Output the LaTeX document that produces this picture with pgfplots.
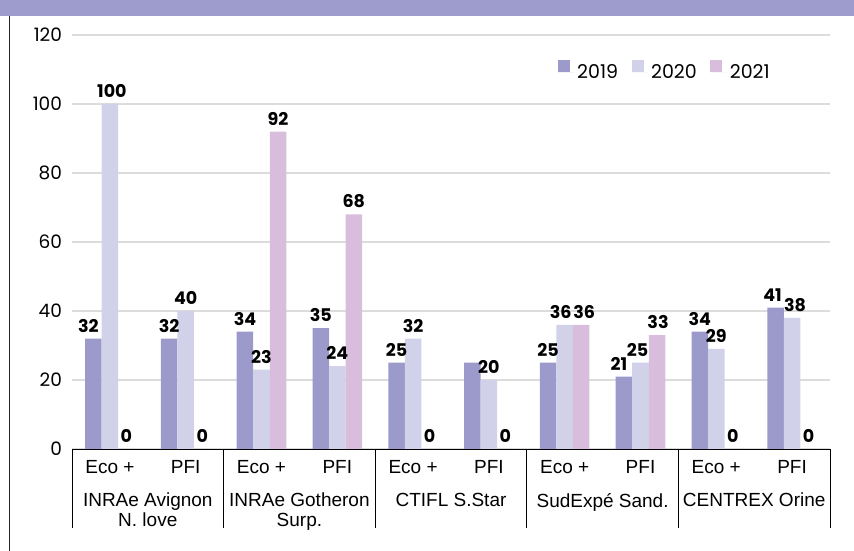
\documentclass[border=0pt]{standalone}
\usepackage{pgfplots}
\pgfplotsset{compat=1.18}
\usepackage{pgfplotstable}
\usepackage{fontspec}
\setmainfont{Liberation Sans}
\newfontfamily\pop{Poppins}
\definecolor{band}{HTML}{9D9CCD}
\definecolor{cA}{HTML}{9C9ACB}
\definecolor{cB}{HTML}{D1D1EA}
\definecolor{cC}{HTML}{D8BDDC}
\definecolor{gridc}{HTML}{DCDCDC}

\pgfplotstableread{
x a b c
0 32 100 0
1 32 40 0
2 34 23 92
3 35 24 68
4 25 32 0
5 25 20 0
6 25 36 36
7 21 25 33
8 34 29 0
9 41 38 0
}\datatable

\pgfplotstableread{
x a
0 32
1 32
2 34
3 35
4 25
6 25
7 21
8 34
9 41
}\labelsA

\tikzset{grp/.style={anchor=north, inner sep=0pt, align=center, font=\fontsize{19}{20}\selectfont, yshift=-44pt}}

\begin{document}
\begin{tikzpicture}[x=1pt,y=1pt]
\useasboundingbox (0,0) rectangle (854,551);
\fill[band] (0,535) rectangle (854,551);
\draw[black!85, line width=0.8pt] (9.5,0) -- (9.5,535);
\begin{axis}[
  at={(72pt,102pt)}, anchor=south west,
  width=758pt, height=414pt, scale only axis, clip=false,
  xmin=-0.5, xmax=9.5, ymin=0, ymax=120,
  ybar, bar width=0.218,
  /pgf/number format/assume math mode=true,
  ytick={0,20,...,120},
  ymajorgrids, grid style={gridc, line width=1.2pt},
  separate axis lines,
  axis x line*=bottom, axis y line*=left,
  y axis line style={draw=none},
  x axis line style={-, black, line width=0.8pt},
  major tick length=0pt,
  ytick style={draw=none},
  yticklabel style={font=\pop\fontsize{18.5}{20}\selectfont, xshift=-6.5pt},
  xtick={0,...,9},
  xticklabels={Eco +, PFI, Eco +, PFI, Eco +, PFI, Eco +, PFI, Eco +, PFI},
  xticklabel style={font=\fontsize{19}{20}\selectfont, yshift=-8pt},
  extra x ticks={-0.5,1.5,3.5,5.5,7.5,9.5},
  extra x tick labels={},
  extra x tick style={major tick length=79pt, tick align=outside, tick style={draw=black, line width=0.8pt}},
  legend columns=3,
  legend style={at={(0.6405,0.940)}, anchor=north west, draw=none, fill=none,
    inner sep=0pt, font=\pop\fontsize{19}{22}\selectfont,
    nodes={inner sep=3.5pt},
    /tikz/every even column/.append style={column sep=10pt}},
  legend image code/.code={\fill[#1, draw=none] (0pt,0pt) rectangle (12pt,12pt);\path (0pt,0pt) -- (16pt,0pt);},
  nodes near coords style={font=\pop\bfseries\fontsize{17.5}{20}\selectfont, text=black, inner sep=0pt, anchor=south, yshift=6pt},
]
\addplot[fill=cA, draw=none, bar shift=-0.218] table[x=x, y=a] {\datatable};
\addplot[fill=cB, draw=none, bar shift=0, nodes near coords,
  coordinate style/.condition={x==0}{xshift=2pt},
  coordinate style/.condition={x==6}{xshift=-4pt},
  coordinate style/.condition={x==7}{xshift=-3pt},
  coordinate style/.condition={x==9}{xshift=3pt}] table[x=x, y=b] {\datatable};
\addplot[fill=cC, draw=none, bar shift=0.218, nodes near coords,
  coordinate style/.condition={x==6}{xshift=3pt},
  coordinate style/.condition={x==7}{xshift=1pt}] table[x=x, y=c] {\datatable};
\addplot[fill=none, draw=none, bar shift=-0.218, nodes near coords, forget plot,
  coordinate style/.condition={x==0}{xshift=-5pt},
  coordinate style/.condition={x==7}{xshift=-5pt},
  coordinate style/.condition={x==9}{xshift=-3pt}] table[x=x, y=a] {\labelsA};
\legend{2019, 2020, 2021}
\node[grp] at (axis cs:0.5,0) {INRAe Avignon\\N. love};
\node[grp] at (axis cs:2.5,0) {INRAe Gotheron\\Surp.};
\node[grp] at (axis cs:4.5,0) {CTIFL S.Star};
\node[grp] at (axis cs:6.5,0) {SudExpé Sand.};
\node[grp] at (axis cs:8.5,0) {CENTREX Orine};
\end{axis}
\end{tikzpicture}
\end{document}
